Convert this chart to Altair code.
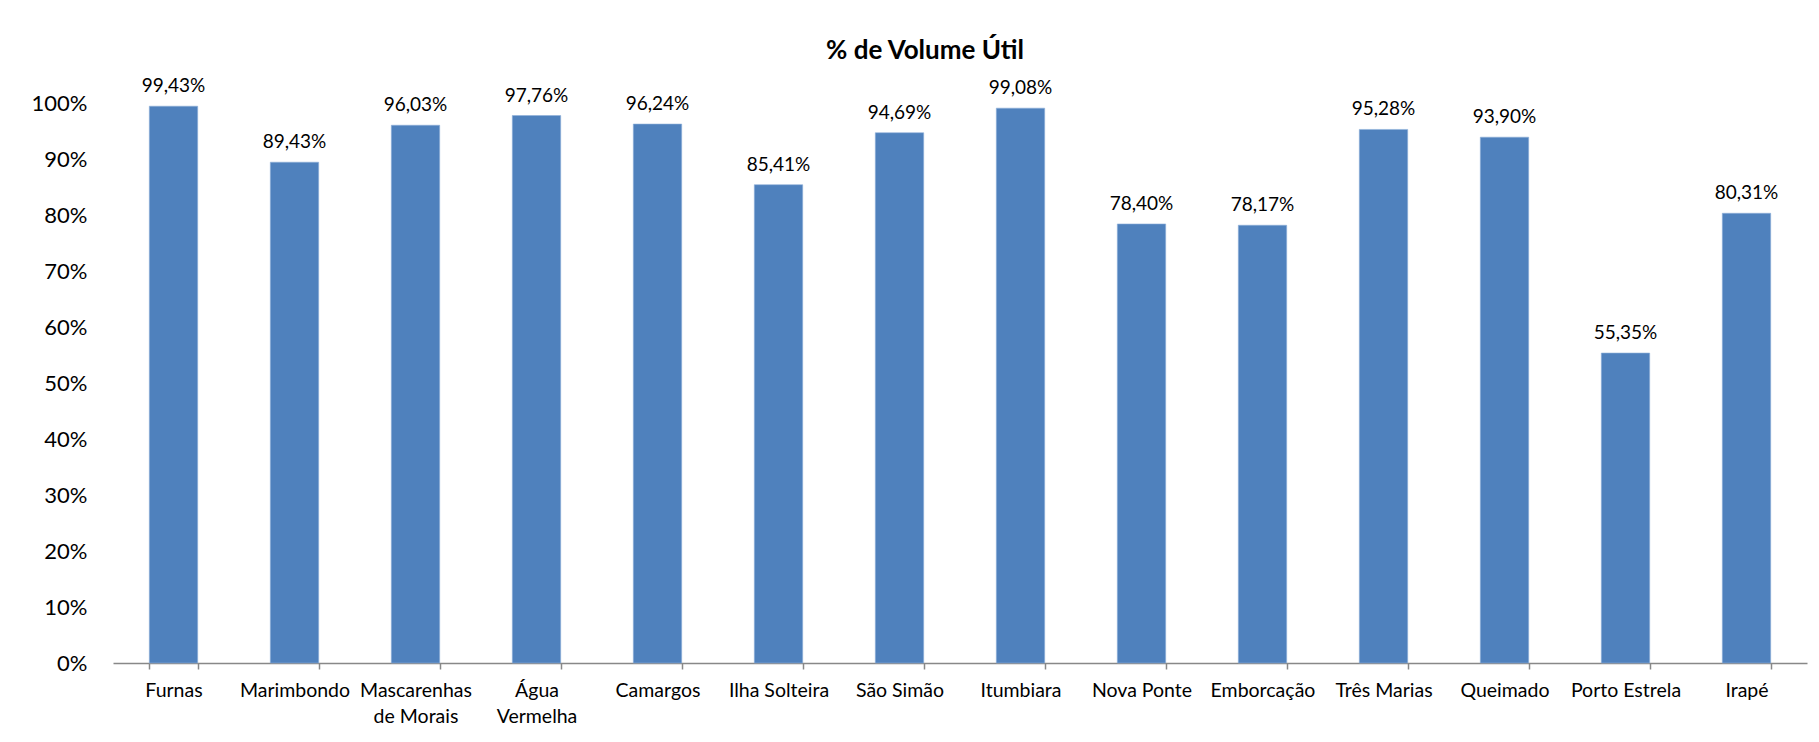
import altair as alt
import pandas as pd

categories = ["Furnas", "Marimbondo", "Mascarenhas\nde Morais", "Água\nVermelha", "Camargos",
              "Ilha Solteira", "São Simão", "Itumbiara", "Nova Ponte", "Emborcação",
              "Três Marias", "Queimado", "Porto Estrela", "Irapé"]
values = [99.43, 89.43, 96.03, 97.76, 96.24, 85.41, 94.69, 99.08, 78.40, 78.17,
          95.28, 93.90, 55.35, 80.31]
y_ticks = [0, 10, 20, 30, 40, 50, 60, 70, 80, 90, 100]

df = pd.DataFrame({"cat": categories, "val": values})
df["lbl"] = [f"{v:.2f}%".replace(".", ",") for v in values]

FONT = "Lato"

x = alt.X("cat:N", sort=categories, title=None,
          scale=alt.Scale(paddingInner=0.6, paddingOuter=0.3),
          axis=alt.Axis(labelAngle=0, labelExpr="split(datum.label, '\\n')",
                        tickBand="extent", tickSize=6, tickColor="#888888",
                        domainColor="#888888", domainWidth=1.5, tickWidth=1.5,
                        labelFontSize=19.5, labelFont=FONT, labelColor="#000000",
                        labelPadding=12, labelLineHeight=26))
y = alt.Y("val:Q", title=None,
          scale=alt.Scale(domain=[0, 100], nice=False),
          axis=alt.Axis(values=y_ticks, labelExpr="datum.value + '%'", grid=False,
                        domain=False, ticks=False, labelFontSize=22, labelFont=FONT,
                        labelColor="#000000", labelPadding=26))

bars = alt.Chart(df).mark_bar(color="#4F81BD", stroke="#8FB0DA", strokeWidth=0.6).encode(x=x, y=y)
text = alt.Chart(df).mark_text(baseline="bottom", dy=-10, fontSize=19, font=FONT, color="#000000").encode(
    x=alt.X("cat:N", sort=categories), y="val:Q", text="lbl:N")

chart = (bars + text).properties(
    width=1694, height=560,
    title=alt.TitleParams("% de Volume Útil", fontSize=26, font=FONT, fontWeight="bold",
                          color="#000000", anchor="middle", offset=13, dx=-35),
    autosize=alt.AutoSizeParams(type="none"),
    padding={"left": 105, "top": 95, "right": 4, "bottom": 71},
    background="#ffffff",
).configure_view(stroke=None)

chart.save("out.html", embed_options={"renderer": "svg", "actions": False})
